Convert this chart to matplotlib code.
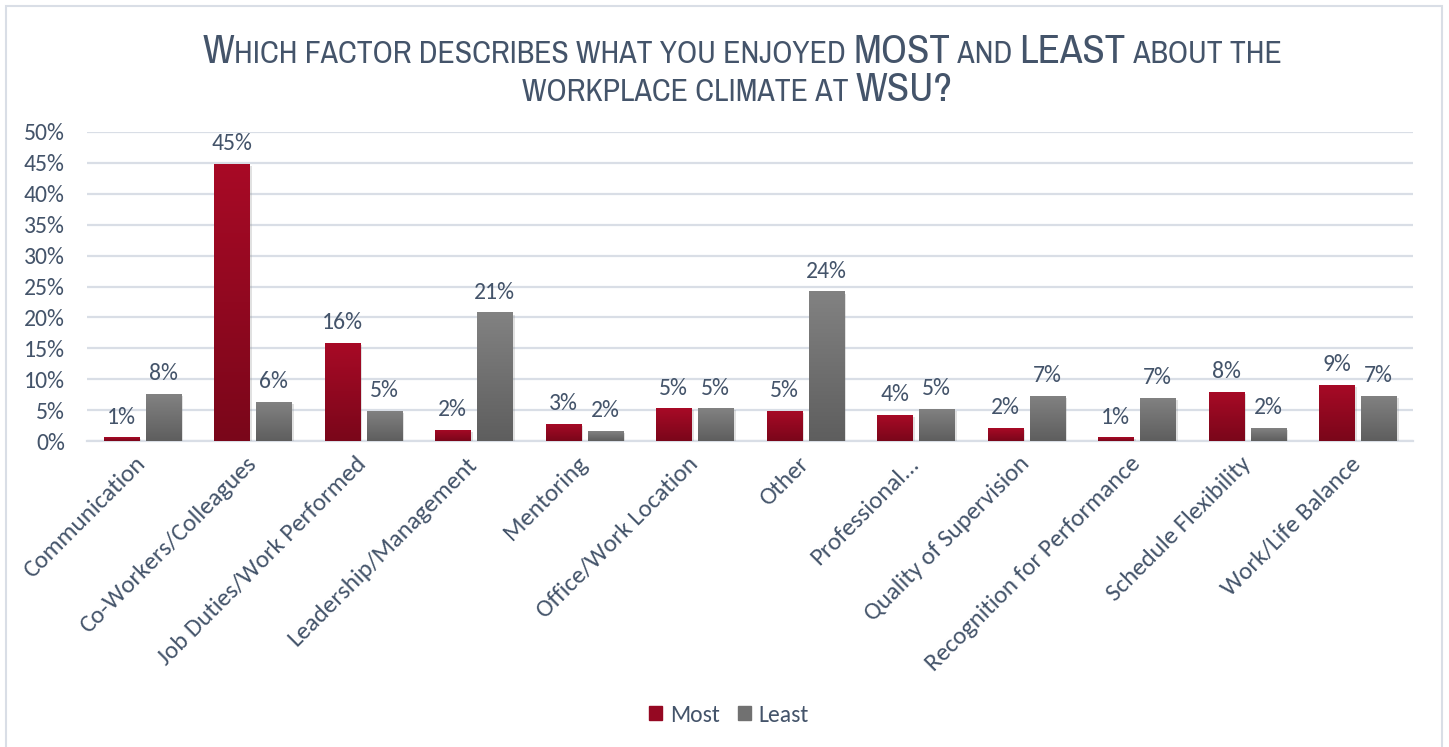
import numpy as np
import matplotlib
matplotlib.use("Agg")
import matplotlib.pyplot as plt
from matplotlib.colors import LinearSegmentedColormap
from matplotlib.patches import Patch, Rectangle
import matplotlib.patheffects as pe

categories = ["Communication", "Co-Workers/Colleagues", "Job Duties/Work Performed",
              "Leadership/Management", "Mentoring", "Office/Work Location", "Other",
              "Professional...", "Quality of Supervision", "Recognition for Performance",
              "Schedule Flexibility", "Work/Life Balance"]
most = [0.6, 44.8, 15.9, 1.8, 2.8, 5.3, 4.9, 4.2, 2.1, 0.6, 8.0, 9.1]
least = [7.6, 6.3, 4.9, 20.8, 1.6, 5.3, 24.2, 5.2, 7.3, 7.0, 2.1, 7.3]

TXT = "#44546A"
GRID = "#D9DEE6"
RED = ("#7A061A", "#A80A26")    # bottom, top
GRAY = ("#5E5E5E", "#828282")
FS = 17

plt.rcParams["font.family"] = ["Carlito", "Lato", "DejaVu Sans"]

W, H = 1449, 747
fig = plt.figure(figsize=(W / 100, H / 100), dpi=100)
ax = fig.add_axes([87 / W, 1 - 441 / H, (1413 - 87) / W, (441 - 132) / H])

x = np.arange(len(categories))
bw = 0.32
off = 0.19
shadow = [pe.SimplePatchShadow(offset=(1.5, -1.5), shadow_rgbFace="#888888", alpha=0.25), pe.Normal()]
b1 = ax.bar(x - off, most, bw, color=RED[1], zorder=3, path_effects=shadow)
b2 = ax.bar(x + off, least, bw, color=GRAY[1], zorder=3, path_effects=shadow)

# vertical gradient fill on every bar
grad = np.linspace(1, 0, 256).reshape(-1, 1)
for bars, cols in ((b1, RED), (b2, GRAY)):
    cmap = LinearSegmentedColormap.from_list("g", list(cols))
    for r in bars:
        x0, y0 = r.get_xy()
        im = ax.imshow(grad, extent=[x0, x0 + r.get_width(), y0, y0 + r.get_height()],
                       aspect="auto", cmap=cmap, vmin=0, vmax=1, zorder=3.5)
        im.set_clip_path(r)

for bars, vals in ((b1, most), (b2, least)):
    for r, v in zip(bars, vals):
        ax.annotate(f"{v:.0f}%", (r.get_x() + r.get_width() / 2, v), xytext=(0, 7),
                    textcoords="offset points", ha="center", va="bottom",
                    fontsize=FS, color=TXT)

ax.set_xlim(-0.5, len(categories) - 0.5)
ax.set_ylim(0, 50)
ax.set_yticks(range(0, 51, 5))
ax.set_yticklabels([f"{t}%" for t in range(0, 51, 5)])
ax.grid(axis="y", color=GRID, linewidth=1.6, zorder=0)
ax.set_axisbelow(True)
for s in ("top", "right", "left"):
    ax.spines[s].set_visible(False)
ax.spines["bottom"].set_color(GRID)
ax.spines["bottom"].set_linewidth(1.6)
ax.tick_params(axis="y", length=0, pad=16, labelsize=FS, labelcolor=TXT)
ax.set_xticks(x)
ax.set_xticklabels(categories, rotation=45, ha="right", va="center", rotation_mode="anchor")
ax.tick_params(axis="x", length=0, pad=14, labelsize=18, labelcolor=TXT)

leg = fig.legend(handles=[Patch(color="#950822", label="Most"), Patch(color="#717171", label="Least")],
                 loc="center", bbox_to_anchor=(729 / W, 1 - 715 / H), ncol=2, frameon=False,
                 fontsize=FS, handlelength=0.55, handleheight=0.55, handletextpad=0.35,
                 columnspacing=0.75, labelcolor=TXT)

# chart frame
fig.patches.append(Rectangle((6 / W, -0.1), (1442 - 6) / W, 1.1 - 6 / H, transform=fig.transFigure,
                             fill=False, edgecolor=GRID, linewidth=1.5))

# title in small caps: big capitals mixed with reduced capitals
TF = ["Archivo Narrow", "Asap Condensed", "DejaVu Sans"]
big, small = 29.5, 22.8


def caps_line(parts, yc, xc):
    r = fig.canvas.get_renderer()
    items = []
    for s, is_big in parts:
        t = fig.text(0, 1 - yc / H, s, fontsize=big if is_big else small, color=TXT,
                     family=TF, weight="semibold", va="baseline", ha="left")
        items.append(t)
    widths = [t.get_window_extent(r).width for t in items]
    xpos = xc - sum(widths) / 2
    for t, w in zip(items, widths):
        t.set_x(xpos / W)
        xpos += w


caps_line([("W", True), ("HICH FACTOR DESCRIBES WHAT YOU ENJOYED ", False), ("MOST", True),
           (" AND ", False), ("LEAST", True), (" ABOUT THE", False)], 63, 742)
caps_line([("WORKPLACE CLIMATE AT ", False), ("WSU?", True)], 101, 737)

fig.savefig("out.png", dpi=100)
